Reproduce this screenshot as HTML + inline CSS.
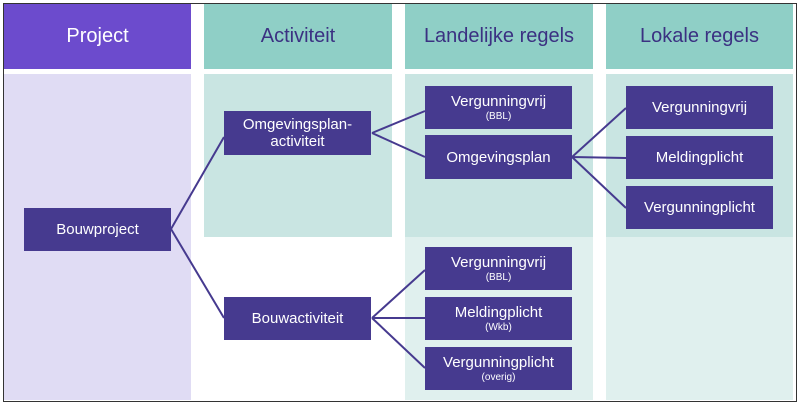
<!DOCTYPE html><html><head><style>
body{margin:0;width:799px;height:403px;background:#fff;position:relative;overflow:hidden;font-family:"Liberation Sans",sans-serif}
.a{position:absolute}
.h{display:flex;align-items:center;justify-content:center;font-size:20px;color:#3b3182}
.n{position:absolute;background:#463a8f;color:#fff;display:flex;flex-direction:column;align-items:center;justify-content:center;font-size:15px;line-height:17px;text-align:center;width:147px;height:43px}
.n small{font-size:10px;line-height:13px}
</style></head><body>
<div class="a" style="left:3px;top:3px;width:792px;height:397px;border:1px solid #333"></div>
<div class="a h" style="left:4px;top:4px;width:187px;height:65px;background:#6c4bcd;color:#fff">Project</div>
<div class="a h" style="left:204px;top:4px;width:188px;height:65px;background:#8fcfc6">Activiteit</div>
<div class="a h" style="left:405px;top:4px;width:188px;height:65px;background:#8fcfc6">Landelijke regels</div>
<div class="a h" style="left:606px;top:4px;width:187px;height:65px;background:#8fcfc6">Lokale regels</div>
<div class="a" style="left:4px;top:74px;width:187px;height:326px;background:#e0dcf4"></div>
<div class="a" style="left:204px;top:74px;width:188px;height:163px;background:#c9e5e2"></div>
<div class="a" style="left:405px;top:74px;width:188px;height:163px;background:#c9e5e2"></div>
<div class="a" style="left:606px;top:74px;width:187px;height:163px;background:#c9e5e2"></div>
<div class="a" style="left:405px;top:237px;width:188px;height:163px;background:#e0f0ee"></div>
<div class="a" style="left:606px;top:237px;width:187px;height:163px;background:#e0f0ee"></div>
<svg class="a" style="left:0;top:0" width="799" height="403"><g stroke="#463a8f" stroke-width="2" fill="none">
<path d="M171 229L224 137M171 229L224 318M372 133L425 111M372 133L425 157M572 157L626 108M572 157L626 158M572 157L626 208M372 318L425 270M372 318L425 318M372 318L425 368"/></g></svg>
<div class="n" style="left:24px;top:208px">Bouwproject</div>
<div class="n" style="left:224px;top:111px;height:44px">Omgevingsplan-<br>activiteit</div>
<div class="n" style="left:224px;top:297px">Bouwactiviteit</div>
<div class="n" style="left:425px;top:86px">Vergunningvrij<small>(BBL)</small></div>
<div class="n" style="left:425px;top:135px;height:44px">Omgevingsplan</div>
<div class="n" style="left:425px;top:247px">Vergunningvrij<small>(BBL)</small></div>
<div class="n" style="left:425px;top:297px">Meldingplicht<small>(Wkb)</small></div>
<div class="n" style="left:425px;top:347px">Vergunningplicht<small>(overig)</small></div>
<div class="n" style="left:626px;top:86px">Vergunningvrij</div>
<div class="n" style="left:626px;top:136px">Meldingplicht</div>
<div class="n" style="left:626px;top:186px">Vergunningplicht</div>
</body></html>
